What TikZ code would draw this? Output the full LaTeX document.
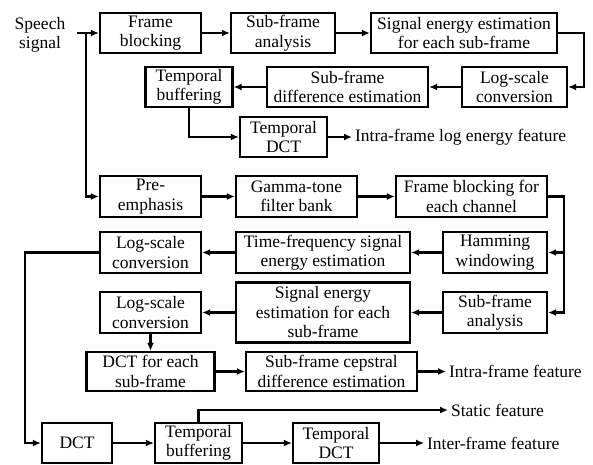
\documentclass[tikz,border=0pt]{standalone}
\usepackage{fontspec}
\setmainfont{Liberation Serif}
\usetikzlibrary {positioning}
\usetikzlibrary {arrows.meta}
\tikzset{
boxA/.style={rectangle,minimum height=40pt,minimum width=101pt,draw=black,line width=2.2pt,align=center,inner sep=1pt}
}
\tikzset{
boxB/.style={rectangle,minimum height=40pt,minimum width=87pt,draw=black,line width=2.2pt,align=center,inner sep=1pt}
}
\tikzset{
boxC/.style={rectangle,minimum height=40pt,minimum width=104pt,draw=black,line width=2.2pt,align=center,inner sep=1pt}
}
\tikzset{
feat/.style={anchor=west,inner sep=2pt}
}

\begin{document}
\begin{tikzpicture}[x=1pt,y=-1pt,>={Latex[length=8pt,width=7pt]},line width=2.2pt,font=\fontsize{17.5}{19.5}\selectfont]
\useasboundingbox (0,0) rectangle (593,464);

\node[align=center,inner sep=0pt] (speech) at (40,35) {Speech\\signal};
\coordinate (in) at (77,33);
\coordinate (split) at (86,33);

\node[boxA] (fb) at (150.5,33) {Frame\\blocking};
\node[boxC] (sfa) at (283,33) {Sub-frame\\analysis};
\node[boxA,minimum width=186pt] (see) at (464,33) {Signal energy estimation\\for each sub-frame};
\node[boxC,minimum width=105pt] (logA) at (514.5,87) {Log-scale\\conversion};
\node[boxA,minimum width=161pt] (sfd) at (347.5,87) {Sub-frame\\difference estimation};
\node[boxB] (tbA) at (189,87) {Temporal\\buffering};
\node[boxB] (tdctA) at (283.5,137) {Temporal\\DCT};
\node[feat] (lef) at (352,137) {Intra-frame log energy feature};
%------------------------------------------------------------------------------------------------------------%
\node[boxA,minimum height=41pt] (pre) at (150.5,196.5) {Pre-\\emphasis};
\node[boxA,minimum height=41pt,minimum width=121pt] (gt) at (296.5,196.5) {Gamma-tone\\filter bank};
\node[boxA,minimum height=41pt,minimum width=151pt] (fbc) at (471.5,196.5) {Frame blocking for\\each channel};

\node[boxC,minimum height=41pt] (ham) at (495,252.5) {Hamming\\windowing};
\node[boxA,minimum height=41pt,minimum width=174pt] (tfe) at (323,252.5) {Time-frequency signal\\energy estimation};
\node[boxA,minimum height=41pt] (logB) at (150.5,252.5) {Log-scale\\conversion};

\node[boxC,minimum height=41pt] (sfb) at (495,312.5) {Sub-frame\\analysis};
\node[boxA,minimum height=60pt,minimum width=174pt] (seb) at (323,312.5) {Signal energy\\estimation for each\\sub-frame};
\node[boxA,minimum height=41pt] (logC) at (150.5,312.5) {Log-scale\\conversion};

\node[boxA,minimum height=39pt,minimum width=128pt] (dcte) at (150.5,371.5) {DCT for each\\sub-frame};
\node[boxA,minimum height=39pt,minimum width=171pt] (sfcd) at (331.5,371.5) {Sub-frame cepstral\\difference estimation};
\node[feat] (iaf) at (446,371.5) {Intra-frame feature};

\node[boxA,minimum width=70pt] (dct) at (77,443) {DCT};
\node[boxB] (tbB) at (198.5,443) {Temporal\\buffering};
\node[boxB,minimum width=86pt] (tdctB) at (336,443) {Temporal\\DCT};
\node[feat] (sf) at (448,410) {Static feature};
\node[feat] (ief) at (424,443) {Inter-frame feature};
%------------------------------------------------------------------------------------------------------------%
\draw[->] (in) -- (fb);
\draw[->] (split) |- (pre.west);
\draw[->] (fb) -- (sfa);
\draw[->] (sfa) -- (see);
\draw[->] (see.east) -- ++(26,0) |- (logA.east);
\draw[->] (logA) -- (sfd);
\draw[->] (sfd) -- (tbA);
\draw[->] (tbA.south) |- (tdctA.west);
\draw[->] (tdctA) -- (lef);

\draw[->] (pre) -- (gt);
\draw[->] (gt) -- (fbc);
\draw[->] (fbc.east) -- ++(16,0) |- (ham.east);
\draw[->] (fbc.east) -- ++(16,0) |- (sfb.east);
\draw[->] (ham) -- (tfe);
\draw[->] (tfe) -- (logB);
\draw[->] (sfb) -- (seb);
\draw[->] (seb) -- (logC);
\draw[->] (logC) -- (dcte);
\draw[->] (dcte) -- (sfcd);
\draw[->] (sfcd) -- (iaf);

\draw[->] (logB.west) -- ++(-74,0) |- (dct.west);
\draw[->] (dct) -- (tbB);
\draw[->] (tbB) -- (tdctB);
\draw[->] (tdctB) -- (ief);
\draw[->] (tbB.north) |- (sf.west);
%\draw (speech.east) -- (in);

\end{tikzpicture}
\end{document}
